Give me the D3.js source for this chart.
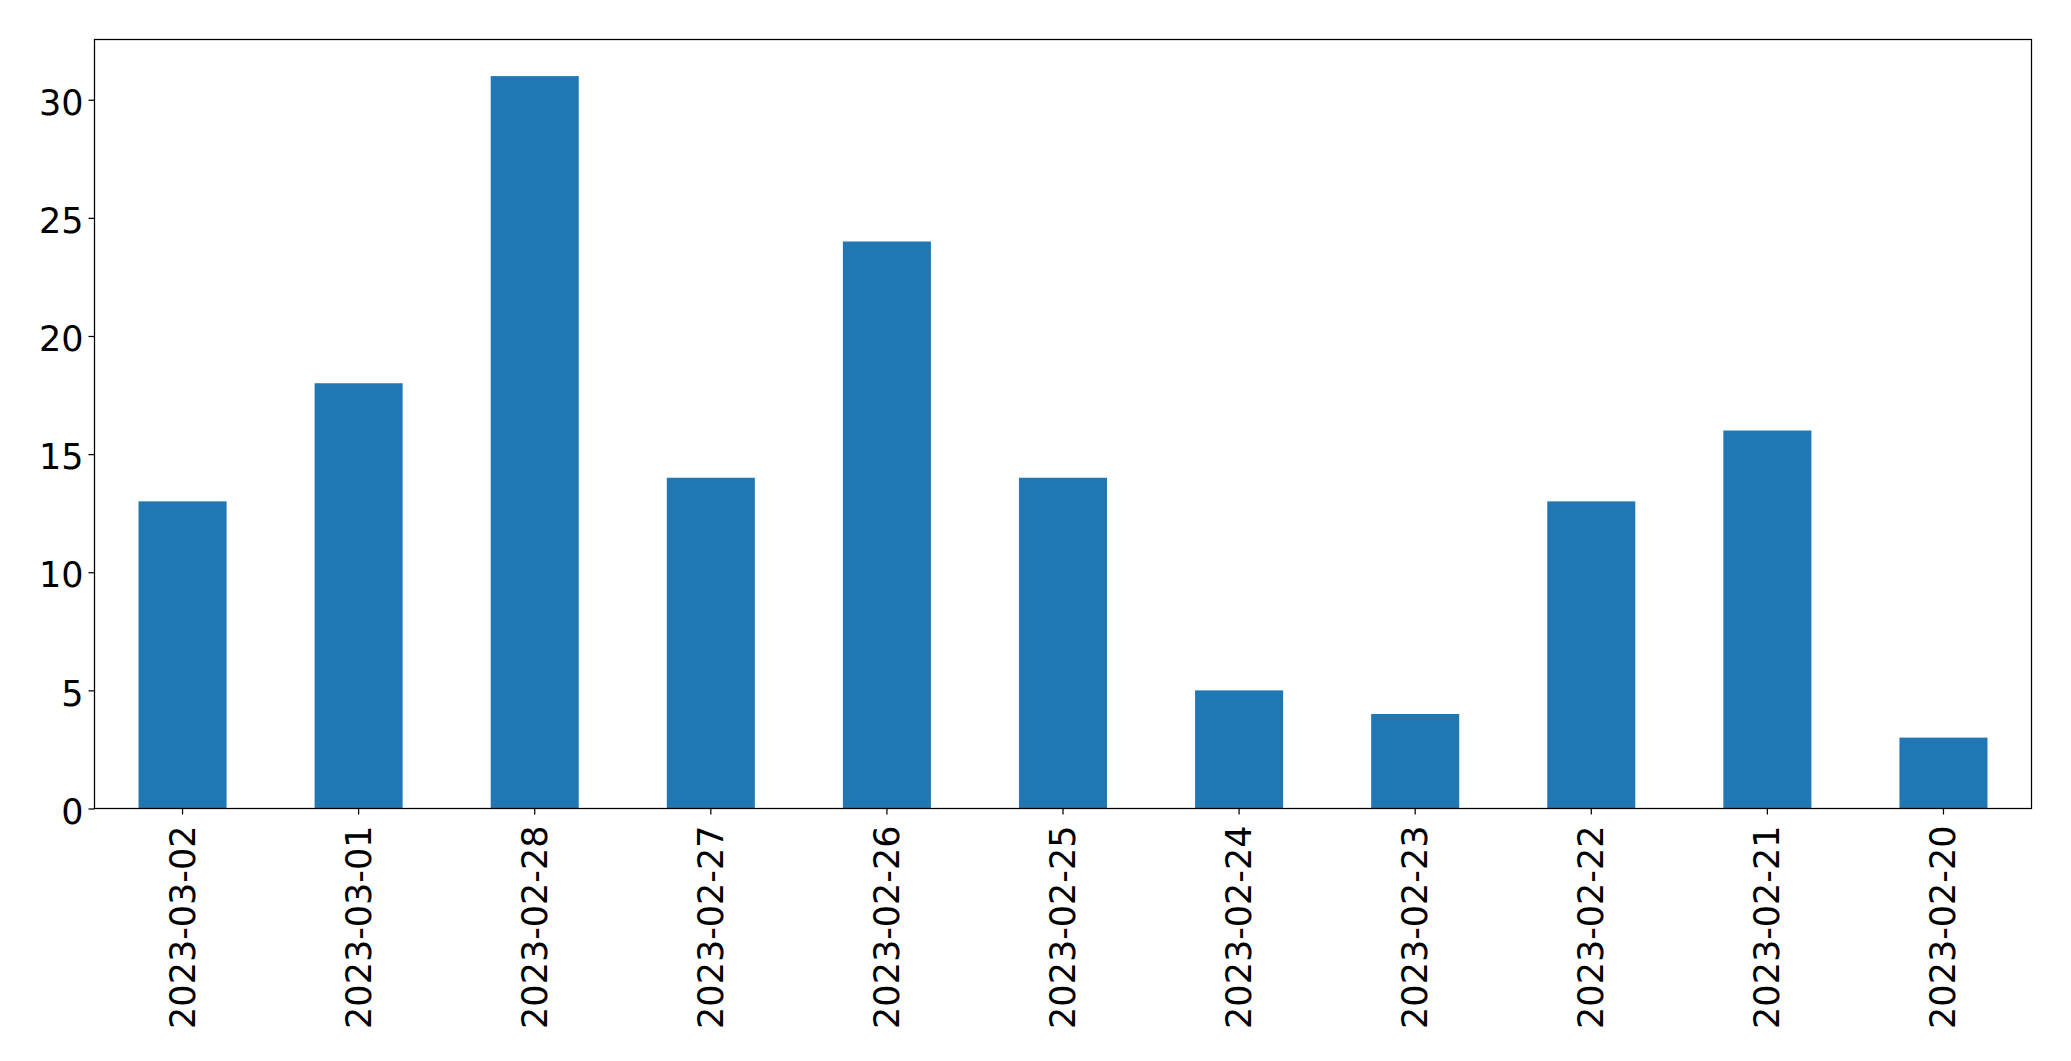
<!DOCTYPE html>
<html>
<head>
<meta charset="utf-8">
<script src="https://cdn.jsdelivr.net/npm/d3@7"></script>
<style>
  html, body { margin: 0; padding: 0; background: #fff; }
  svg { display: block; }
</style>
</head>
<body>
<svg id="chart" width="2071" height="1061"></svg>
<script>
const categories = ["2023-03-02","2023-03-01","2023-02-28","2023-02-27","2023-02-26","2023-02-25","2023-02-24","2023-02-23","2023-02-22","2023-02-21","2023-02-20"];
const values = [13, 18, 31, 14, 24, 14, 5, 4, 13, 16, 3];
const yTicks = [0, 5, 10, 15, 20, 25, 30];

const svg = d3.select("#chart");
const plotLeft = 94.5, plotRight = 2031.5, plotTop = 39.5, plotBottom = 808.5;
const font = "'DejaVu Sans', sans-serif";
const fontSize = 35;

const x = d3.scaleBand().domain(categories).range([plotLeft, plotRight]).paddingInner(0.5).paddingOuter(0.25);
const yMax = d3.max(values) * 1.05;
const y = d3.scaleLinear().domain([0, yMax]).range([plotBottom, plotTop]);

// bars
svg.append("g").selectAll("rect").data(values).join("rect")
  .attr("x", (d, i) => x(categories[i]))
  .attr("width", x.bandwidth())
  .attr("y", d => y(d))
  .attr("height", d => y(0) - y(d))
  .attr("fill", "#1f77b4");

// y axis
const yAxis = svg.append("g").attr("transform", `translate(${plotLeft},0)`)
  .call(d3.axisLeft(y).tickValues(yTicks).tickSize(6).tickPadding(5).tickFormat(d3.format("d")));
yAxis.select(".domain").remove();
yAxis.selectAll("line").attr("stroke", "#000").attr("stroke-width", 1.25);
yAxis.selectAll("text").attr("font-family", font).attr("font-size", fontSize).attr("fill", "#000").attr("dy", "0.42em");

// x axis
const xAxis = svg.append("g").attr("transform", `translate(0,${plotBottom})`)
  .call(d3.axisBottom(x).tickSize(6).tickPadding(0));
xAxis.select(".domain").remove();
xAxis.selectAll("line").attr("stroke", "#000").attr("stroke-width", 1.25);
xAxis.selectAll("text")
  .attr("font-family", font).attr("font-size", fontSize).attr("fill", "#000")
  .attr("text-anchor", "end")
  .attr("dominant-baseline", "central")
  .attr("dy", null)
  .attr("y", 0)
  .attr("transform", "translate(0,17) rotate(-90)");

// frame
svg.append("rect")
  .attr("x", plotLeft).attr("y", plotTop)
  .attr("width", plotRight - plotLeft).attr("height", plotBottom - plotTop)
  .attr("fill", "none").attr("stroke", "#000").attr("stroke-width", 1.25);
</script>
</body>
</html>
